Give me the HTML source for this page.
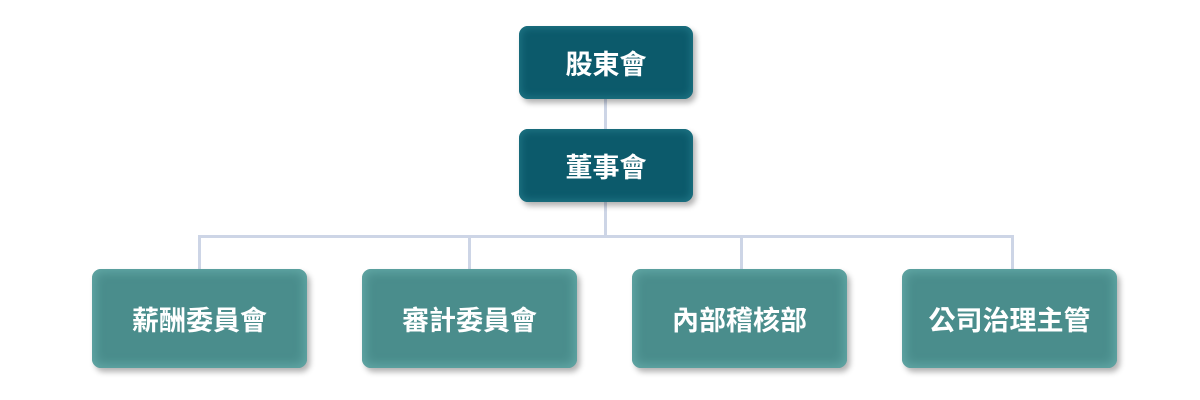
<!DOCTYPE html>
<html><head><meta charset="utf-8"><style>
body{margin:0;width:1200px;height:400px;background:#fff;position:relative;overflow:hidden;font-family:"Liberation Sans","Noto Sans CJK TC",sans-serif}
.b{position:absolute;display:flex;align-items:center;justify-content:center;color:#fff;font-weight:bold;font-size:27px;border-radius:9px;box-sizing:border-box;letter-spacing:0px}
.t{background:#0c5a6b;box-shadow:inset 0 0 8px 2px #1f7585,3px 4px 6px rgba(0,0,0,.3)}
.s{background:#4a8d8c;box-shadow:inset 0 0 10px 3px #62a8a6,3px 4px 6px rgba(0,0,0,.3)}
.l{position:absolute;background:#cdd5e6}
</style></head><body>
<div class="l" style="left:604px;top:96px;width:3px;height:140px"></div>
<div class="l" style="left:198px;top:235px;width:816px;height:3px"></div>
<div class="l" style="left:198px;top:235px;width:3px;height:36px"></div>
<div class="l" style="left:468px;top:235px;width:3px;height:36px"></div>
<div class="l" style="left:740px;top:235px;width:3px;height:36px"></div>
<div class="l" style="left:1011px;top:235px;width:3px;height:36px"></div>
<div class="b t" style="left:519px;top:26px;width:174px;height:73px">股東會</div>
<div class="b t" style="left:519px;top:129px;width:174px;height:73px">董事會</div>
<div class="b s" style="left:92px;top:269px;width:215px;height:99px">薪酬委員會</div>
<div class="b s" style="left:362px;top:269px;width:215px;height:99px">審計委員會</div>
<div class="b s" style="left:632px;top:269px;width:215px;height:99px">內部稽核部</div>
<div class="b s" style="left:902px;top:269px;width:215px;height:99px">公司治理主管</div>
</body></html>
